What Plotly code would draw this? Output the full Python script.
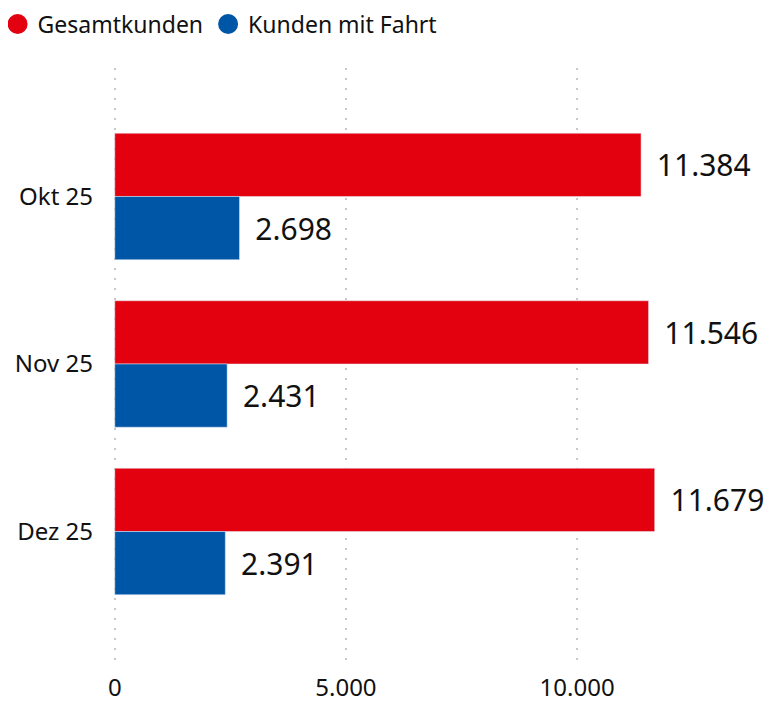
import plotly.graph_objects as go

categories = ["Okt 25", "Nov 25", "Dez 25"]
gesamtkunden = [11384, 11546, 11679]
kunden_mit_fahrt = [2698, 2431, 2391]
x_ticks = [0, 5000, 10000]
x_tick_labels = ["0", "5.000", "10.000"]

RED = "#e3000f"
BLUE = "#0056a6"
FONT = "Noto Sans"

fig = go.Figure()
for name, vals, col in [("Gesamtkunden", gesamtkunden, RED), ("Kunden mit Fahrt", kunden_mit_fahrt, BLUE)]:
    fig.add_trace(go.Bar(
        y=categories, x=vals, orientation="h", name=name,
        marker_color=col, showlegend=False,
        texttemplate=" \u2009%{x:,.0f}", textposition="outside",
        textfont=dict(size=30, color="#111111", family=FONT), cliponaxis=False,
    ))
# legend entries with circle markers
for name, col in [("Gesamtkunden", RED), ("Kunden mit Fahrt", BLUE)]:
    fig.add_trace(go.Scatter(
        x=[None], y=[None], mode="markers", name=name,
        marker=dict(symbol="circle", size=16, color=col, line=dict(width=4, color=col)),
    ))

fig.update_layout(
    width=781, height=706,
    margin=dict(l=104, r=27, t=60, b=49, autoexpand=False),
    plot_bgcolor="white", paper_bgcolor="white",
    separators=",.",
    barmode="group", bargap=0.245, bargroupgap=0,
    font=dict(family=FONT, size=23, color="#111111"),
    legend=dict(orientation="h", x=-0.176, xanchor="left", y=1.0737, yanchor="middle",
                font=dict(size=23), itemsizing="trace", itemwidth=30,
                tracegroupgap=0, traceorder="normal"),
    xaxis=dict(range=[-60, 14000], tickvals=x_ticks, ticktext=x_tick_labels,
               showgrid=True, gridcolor="#c8c8c8", griddash="2px,8px", gridwidth=2,
               zeroline=False, showline=False, tickfont=dict(size=24), ticks="",
               ticklabelstandoff=6),
    yaxis=dict(autorange=False, range=[2.797, -0.767], showgrid=False, zeroline=False,
               showline=False, ticks="", ticklabelstandoff=18, tickfont=dict(size=24)),
)

fig.write_html("out.html")
